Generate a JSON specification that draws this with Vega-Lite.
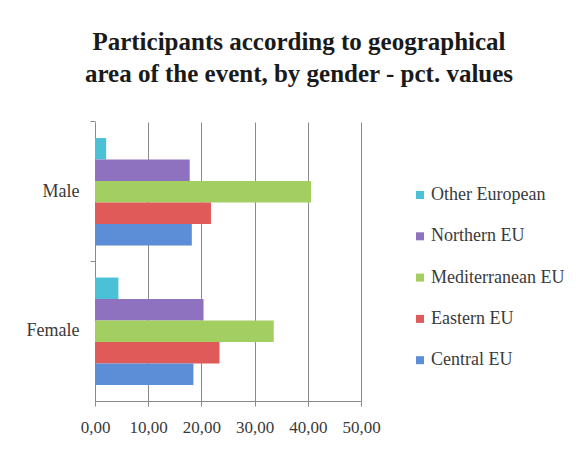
{
  "$schema": "https://vega.github.io/schema/vega-lite/v6.json",
  "autosize": "none",
  "width": 266,
  "height": 279,
  "padding": {"left": 95, "top": 122, "right": 222, "bottom": 50},
  "background": "white",
  "title": {
    "text": ["Participants according to geographical", "area of the event, by gender - pct.  values"],
    "font": "Liberation Serif",
    "fontSize": 25,
    "fontWeight": "bold",
    "color": "#1a1a1a",
    "anchor": "middle",
    "dx": 71,
    "offset": 34,
    "lineHeight": 31.5
  },
  "data": {
    "values": [
      {"gender": "Male", "region": "Other European", "value": 2.1},
      {"gender": "Male", "region": "Northern EU", "value": 17.8},
      {"gender": "Male", "region": "Mediterranean EU", "value": 40.6},
      {"gender": "Male", "region": "Eastern EU", "value": 21.8},
      {"gender": "Male", "region": "Central EU", "value": 18.2},
      {"gender": "Female", "region": "Other European", "value": 4.4},
      {"gender": "Female", "region": "Northern EU", "value": 20.4},
      {"gender": "Female", "region": "Mediterranean EU", "value": 33.6},
      {"gender": "Female", "region": "Eastern EU", "value": 23.4},
      {"gender": "Female", "region": "Central EU", "value": 18.5}
    ]
  },
  "mark": {"type": "bar"},
  "encoding": {
    "y": {
      "field": "gender",
      "type": "nominal",
      "sort": ["Male", "Female"],
      "scale": {"paddingInner": 0.23, "paddingOuter": 0.115},
      "axis": {
        "title": null,
        "bandPosition": -0.15,
        "tickSize": 5,
        "labelPadding": 11,
        "labelFont": "Liberation Serif",
        "labelFontSize": 18,
        "labelColor": "#3a3a3a",
        "domainColor": "#8a8a8a",
        "tickColor": "#8a8a8a",
        "grid": false
      }
    },
    "yOffset": {
      "field": "region",
      "type": "nominal",
      "sort": ["Other European", "Northern EU", "Mediterranean EU", "Eastern EU", "Central EU"],
      "scale": {"paddingInner": 0, "paddingOuter": 0}
    },
    "x": {
      "field": "value",
      "type": "quantitative",
      "scale": {"domain": [0, 50], "nice": false},
      "axis": {
        "title": null,
        "values": [0, 10, 20, 30, 40, 50],
        "labelExpr": "replace(format(datum.value, '.2f'), '.', ',')",
        "labelOverlap": false,
        "labelFlush": false,
        "labelFont": "Liberation Serif",
        "labelFontSize": 17,
        "labelColor": "#3a3a3a",
        "tickSize": 5,
        "labelPadding": 13,
        "domainColor": "#8a8a8a",
        "tickColor": "#8a8a8a",
        "grid": true,
        "gridColor": "#8a8a8a",
        "gridWidth": 1
      }
    },
    "color": {
      "field": "region",
      "type": "nominal",
      "scale": {
        "domain": ["Other European", "Northern EU", "Mediterranean EU", "Eastern EU", "Central EU"],
        "range": ["#4bc1d8", "#8f72bf", "#a3cf62", "#e05a5a", "#5b8ed6"]
      },
      "legend": {
        "title": null,
        "orient": "none",
        "legendX": 316,
        "legendY": 64,
        "symbolType": "square",
        "symbolSize": 64,
        "symbolStrokeWidth": 0,
        "labelFont": "Liberation Serif",
        "labelFontSize": 18,
        "labelColor": "#3a3a3a",
        "labelOffset": 2,
        "rowPadding": 23.3,
        "labelLimit": 300
      }
    }
  },
  "config": {
    "view": {"stroke": null}
  }
}
